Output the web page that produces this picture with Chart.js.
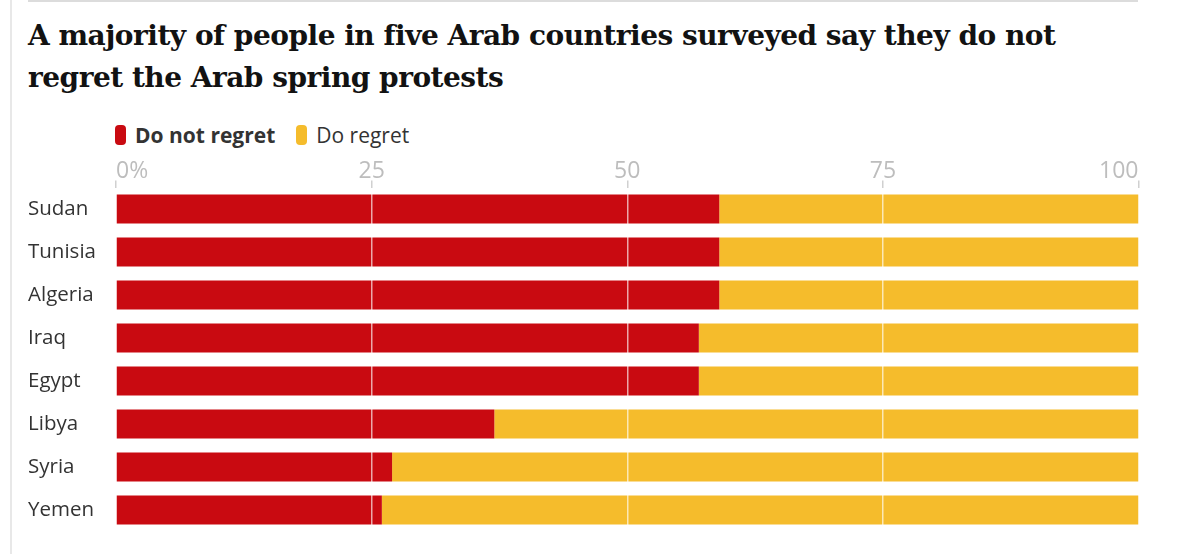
<!DOCTYPE html>
<html>
<head>
<meta charset="utf-8">
<script src="https://cdn.jsdelivr.net/npm/chart.js@4.4.1/dist/chart.umd.min.js"></script>
<style>
    body { margin: 0; background: #fff; width: 1200px; height: 554px; overflow: hidden; position: relative; font-family: "Open Sans", sans-serif; }
    #ruleLeft { position: absolute; left: 10px; top: 0; width: 2px; height: 554px; background: #e8e8e8; }
    #ruleTop { position: absolute; left: 28px; top: 0; width: 1110px; height: 2px; background: #dcdcdc; }
    h1 { position: absolute; left: 28px; top: 15px; margin: 0; font: bold 28px/42px "DejaVu Serif", serif; color: #121212; letter-spacing: -0.5px; }
    #legend { position: absolute; left: 115px; top: 123px; height: 24px; font-size: 21px; color: #333; display: flex; align-items: center; }
    #legend span { display: flex; align-items: center; margin-right: 21px; }
    .key { display: inline-block; width: 11px; height: 20px; border-radius: 4px; margin-right: 9px; }
    #wrap { position: absolute; left: 0; top: 145px; width: 1200px; height: 409px; }
</style>
</head>
<body>
<div id="ruleLeft"></div>
<div id="ruleTop"></div>
<h1>A majority of people in five Arab countries surveyed say they do not<br>regret the Arab spring protests</h1>
<div id="legend">
    <span><i class="key" style="background:#c90a11"></i><b>Do not regret</b></span>
    <span><i class="key" style="background:#f5bc2c"></i>Do regret</span>
</div>
<div id="wrap"><canvas id="regretChart"></canvas></div>

<script>
// Survey data (percent)
const countries = ['Sudan', 'Tunisia', 'Algeria', 'Iraq', 'Egypt', 'Libya', 'Syria', 'Yemen'];
const doNotRegret = [59, 59, 59, 57, 57, 37, 27, 26];
const doRegret = [41, 41, 41, 43, 43, 63, 73, 74];
const xTicks = [0, 25, 50, 75, 100];

const ctx = document.getElementById('regretChart').getContext('2d');

new Chart(ctx, {
    type: 'bar',
    data: {
        labels: countries,
        datasets: [
            {
                label: 'Do not regret',
                data: doNotRegret,
                backgroundColor: '#c90a11',
                categoryPercentage: 1,
                barPercentage: 0.674
            },
            {
                label: 'Do regret',
                data: doRegret,
                backgroundColor: '#f5bc2c',
                categoryPercentage: 1,
                barPercentage: 0.674
            }
        ]
    },
    options: {
        indexAxis: 'y',
        responsive: true,
        maintainAspectRatio: false,
        animation: false,
        layout: {
            padding: { left: 28, right: 61.5, top: 0, bottom: 22.5 }
        },
        plugins: {
            legend: { display: false },
            tooltip: { enabled: false }
        },
        scales: {
            x: {
                position: 'top',
                stacked: true,
                min: 0,
                max: 100,
                afterBuildTicks: (scale) => {
                    scale.ticks = xTicks.map(v => ({ value: v }));
                },
                afterFit: (scale) => { scale.height = 42.5; },
                border: { display: false },
                grid: {
                    z: 1,   // white lines drawn on top of the bars
                    color: (c) => (c.tick && (c.tick.value === 0 || c.tick.value === 100)) ? 'rgba(0,0,0,0)' : 'rgba(255,255,255,0.65)',
                    lineWidth: 1.5,
                    tickColor: '#d0d0d0',
                    tickLength: 7,
                    tickWidth: 1.5
                },
                ticks: {
                    align: 'inner',
                    padding: -2,
                    color: '#bdbdbd',
                    font: { family: 'Open Sans', size: 23, lineHeight: 1 },
                    callback: (value) => value === 0 ? '0%' : value
                }
            },
            y: {
                stacked: true,
                afterFit: (scale) => { scale.width = 88; },
                border: { display: false },
                grid: { display: false },
                ticks: {
                    crossAlign: 'far',
                    color: '#333',
                    font: { family: 'Open Sans', size: 20.5 }
                }
            }
        }
    }
});
</script>
</body>
</html>
